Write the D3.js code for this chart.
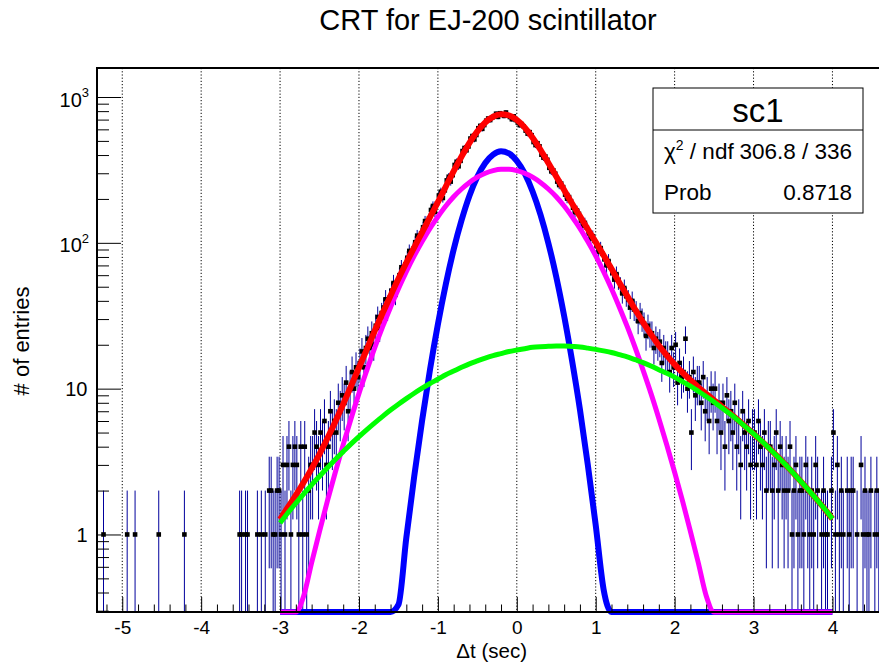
<!DOCTYPE html>
<html>
<head>
<meta charset="utf-8">
<script src="https://cdn.jsdelivr.net/npm/d3@7/dist/d3.min.js"></script>
<style>
  body { margin: 0; background: #fff; }
  text { font-family: "Liberation Sans", Arial, Helvetica, sans-serif; }
</style>
</head>
<body>
<div id="chart"></div>
<script>
// histogram: bins of 0.025 starting at -5.3
var binLo = -5.3, binW = 0.025;
var counts = [
  0,0,1,0,0,0,0,0,0,0, 0,0,0,0,1,0,0,0,1,0, 0,0,0,0,0,0,0,0,0,0,
  1,0,0,0,0,0,0,0,0,0, 0,0,0,1,0,0,0,0,0,0, 0,0,0,0,0,0,0,0,0,0,
  0,0,0,0,0,0,0,0,0,0, 0,1,1,0,1,1,0,0,0,0, 1,0,1,0,1,0,2,2,1,1,
  2,2,
  1,3,1,3, 4,1,3,4, 3,1,4,1, 4,1,2,3, 3,5,4,3, 5,4,6,3, 4,7,5,6, 5,8,7,9,
  8,11,7,10, 13,10,14,12, 15,18,14,19, 22,19,24,20, 27,31,26,33, 36,41,35,42,
  47,53,44,52, 60,68,62,71, 79,88,80,91, 101,112,98,116, 128,141,133,147,
  168,179,163,186, 211,224,203,229, 268,284,263,291, 342,360,335,365,
  426,447,431,458, 519,540,512,549, 611,634,605,642, 688,712,695,721,
  739,768,731,774, 761,742,783,748, 729,704,737,695, 668,641,652,629,
  588,561,574,547, 491,468,482,459, 402,384,391,371, 327,309,314,298,
  263,249,255,241, 214,201,206,193, 174,162,167,158, 142,131,137,127,
  116,107,111,103, 95,87,92,84, 77,70,75,68, 62,56,61,55, 51,45,49,43,
  41,36,40,35, 34,29,33,30, 28,23,27,24, 24,19,22,20, 21,15,19,17,
  17,13,19,14, 20,11,15,12, 13,22,10,12, 5,13,9,11, 11,8,12,7, 9,6,10,8,
  10,6,8,5, 8,4,9,6, 7,5,8,4, 6,3,7,5, 4,6,3,5, 5,3,6,4, 3,5,2,4, 4,2,3,5,
  2,4,3,2, 3,2,4,1, 2,3,1,2, 2,1,3,2, 1,2,1,3, 2,0,1,2, 1,1,0,2,
  5,1,3,1, 2,1,0,2, 1,2,2,0, 1,0,3,1, 2,1,1,2, 0,1,2,1
];

// fit functions, sampled every 0.1 from -3 to 4
var fitLo = -3, fitStep = 0.1;
var fBlue = [
  0,0,0,0,0,0,0,0,0,0,0,0,0,0,
  0.108,0.33,0.95,2.5,6.05,13.5,27.6,51.9,90,143,210.6,284,353,403,424,
  410,365,299,225,156,99.5,58.5,31.5,15.6,7.2,3.0,1.16,0.42,0.135,
  0,0,0,0,0,0,0,0,0,0,0,0,0,0,0,0,0,0,0,0,0,0,0,0,0,0,0,0
];
var fMagenta = [
  0.07,0.127,0.223,0.38,0.64,1.05,1.70,2.67,4.13,6.25,9.28,13.4,19.1,26.6,
  36.2,48.5,63.5,81.4,102,125.8,151,178.8,207,234,259.5,282,300,312.6,319,
  319,312.6,300,282,259.5,234,207,178.8,151,125.8,102,81.4,63.5,48.5,36.2,
  26.6,19.1,13.4,9.28,6.25,4.13,2.67,1.70,1.05,0.64,0.38,0.223,0.127,0.07,0.04,
  0,0,0,0,0,0,0,0,0,0,0,0
];
var fGreen = [
  1.20,1.41,1.64,1.90,2.19,2.51,2.87,3.27,3.70,4.18,4.69,5.24,5.83,6.46,
  7.13,7.82,8.54,9.30,10.07,10.85,11.6,12.45,13.2,14.0,14.8,15.5,16.2,16.85,17.4,
  17.97,18.4,18.8,19.2,19.4,19.5,19.6,19.6,19.46,19.3,18.97,18.6,18.17,17.7,17.09,
  16.5,15.79,15.1,14.32,13.5,12.76,12.0,11.17,10.4,9.6,8.84,8.11,7.39,6.72,6.08,
  5.47,4.91,4.38,3.89,3.44,3.03,2.65,2.31,2.01,1.74,1.50,1.28
];
var fTotal = [
  1.27,1.54,1.86,2.28,2.83,3.56,4.57,5.94,7.83,10.43,13.97,18.64,24.93,33.06,
  43.44,56.65,72.99,93.2,118.1,150.2,190.2,243.2,310.2,391,484.9,581.5,669.2,732.5,760.4,
  747,696,617.8,526.2,434.9,353,285.1,229.9,186.1,152.3,124,101.2,82.1,66.3,53.3,
  43.1,34.9,28.5,23.6,19.75,16.9,14.67,12.87,11.45,10.24,9.22,8.33,7.52,6.79,6.12,
  5.49,4.91,4.38,3.89,3.44,3.03,2.65,2.31,2.01,1.74,1.50,1.28
];

var xMajor = [-5, -4, -3, -2, -1, 0, 1, 2, 3, 4];
var yMajor = [1, 10, 100, 1000];
var yMinorMult = [2, 3, 4, 5, 6, 7, 8, 9];
var yDecades = [0.1, 1, 10, 100, 1000];
var statsName = "sc1";
var statsRows = [["χ² / ndf", "306.8 / 336"], ["Prob", "0.8718"]];

(function() {
  var W = 879, H = 666;
  var fLeft = 97, fRight = 879, fTop = 68, fBottom = 612;
  var xmin = -5.32, xmax = 4.59, ymin = 0.294, ymax = 1581;

  var x = d3.scaleLinear().domain([xmin, xmax]).range([fLeft, fRight]);
  var y = d3.scaleLog().domain([ymin, ymax]).range([fBottom, fTop]);

  var svg = d3.select("#chart").append("svg").attr("width", W).attr("height", H);

  svg.append("defs").append("clipPath").attr("id", "frame")
    .append("rect").attr("x", fLeft).attr("y", fTop).attr("width", fRight - fLeft).attr("height", fBottom - fTop);

  // vertical grid
  svg.append("g").selectAll("line").data(xMajor).enter().append("line")
    .attr("x1", function(d){ return x(d); }).attr("x2", function(d){ return x(d); })
    .attr("y1", fTop).attr("y2", fBottom)
    .attr("stroke", "#000").attr("stroke-width", 1).attr("stroke-dasharray", "1.2,2");

  var bins = counts.map(function(c, i){ return {x: binLo + (i + 0.5) * binW, n: c}; })
    .filter(function(d){ return d.n > 0 && d.x < xmax; });

  var data = svg.append("g").attr("clip-path", "url(#frame)");
  data.selectAll("line").data(bins).enter().append("line")
    .attr("x1", function(d){ return x(d.x); }).attr("x2", function(d){ return x(d.x); })
    .attr("y1", function(d){ return y(d.n + Math.sqrt(d.n)); })
    .attr("y2", function(d){ var lo = d.n - Math.sqrt(d.n); return lo > ymin ? y(lo) : fBottom + 2; })
    .attr("stroke", "#00009c").attr("stroke-width", 1);
  data.selectAll("rect").data(bins).enter().append("rect")
    .attr("x", function(d){ return x(d.x) - 2.3; }).attr("y", function(d){ return y(d.n) - 2.3; })
    .attr("width", 4.6).attr("height", 4.6).attr("fill", "#000");

  // fit curves, clamped at the frame bottom like ROOT does
  var line = d3.line()
    .x(function(d, i){ return x(fitLo + i * fitStep); })
    .y(function(d){ return y(Math.max(d, ymin)); })
    .curve(d3.curveMonotoneX);

  function curve(vals, color, w) {
    svg.append("path").attr("d", line(vals)).attr("fill", "none")
      .attr("stroke", color).attr("stroke-width", w).attr("stroke-linejoin", "round");
  }
  curve(fBlue, "#0000ff", 6);
  curve(fMagenta, "#ff00ff", 5);
  curve(fTotal, "#ff0000", 6);
  curve(fGreen, "#00ff00", 5);

  // axes
  var xAxis = svg.append("g").attr("transform", "translate(0," + fBottom + ")")
    .call(d3.axisBottom(x).tickValues(xMajor).tickSize(-15).tickPadding(9)
      .tickFormat(function(d){ return String(d); }));
  xAxis.select(".domain").remove();
  xAxis.selectAll("text").attr("font-size", 19).attr("font-family", "Liberation Sans, Arial, sans-serif").attr("fill", "#000");

  var xMinor = [];
  for (var v = -5.2; v < xmax; v += 0.2) {
    if (Math.abs(v - Math.round(v)) > 0.01) xMinor.push(v);
  }
  var xMinorAxis = svg.append("g").attr("transform", "translate(0," + fBottom + ")")
    .call(d3.axisBottom(x).tickValues(xMinor).tickSize(-7.5).tickFormat(""));
  xMinorAxis.select(".domain").remove();

  var yAxis = svg.append("g").attr("transform", "translate(" + fLeft + ",0)")
    .call(d3.axisLeft(y).tickValues(yMajor).tickSize(-24).tickFormat(""));
  yAxis.select(".domain").remove();

  var yMinor = [];
  yDecades.forEach(function(dec){
    yMinorMult.forEach(function(m){
      var t = dec * m;
      if (t > ymin && t < ymax) yMinor.push(t);
    });
  });
  var yMinorAxis = svg.append("g").attr("transform", "translate(" + fLeft + ",0)")
    .call(d3.axisLeft(y).tickValues(yMinor).tickSize(-12).tickFormat(""));
  yMinorAxis.select(".domain").remove();

  // y labels
  yMajor.forEach(function(d){
    var exp = Math.round(Math.log10(d));
    var t = svg.append("text").attr("text-anchor", "end").attr("font-size", 20)
      .attr("x", exp >= 2 ? 89 : 87.5).attr("y", y(d) + (exp >= 2 ? 9.5 : 7.5));
    if (exp >= 2) {
      t.append("tspan").text("10");
      t.append("tspan").attr("font-size", 13).attr("dy", -9.5).text(String(exp));
    } else {
      t.text(String(d));
    }
  });

  // frame lines
  svg.append("line").attr("x1", fLeft).attr("x2", fRight).attr("y1", fBottom).attr("y2", fBottom)
    .attr("stroke", "#000").attr("stroke-width", 2);
  svg.append("line").attr("x1", fLeft).attr("x2", fLeft).attr("y1", fTop).attr("y2", fBottom + 1)
    .attr("stroke", "#000").attr("stroke-width", 2);
  svg.append("line").attr("x1", fLeft - 1).attr("x2", fRight).attr("y1", fTop).attr("y2", fTop)
    .attr("stroke", "#000").attr("stroke-width", 2);

  // titles
  svg.append("text").attr("x", 488).attr("y", 30).attr("text-anchor", "middle")
    .attr("font-size", 29).text("CRT for EJ-200 scintillator");
  svg.append("text").attr("transform", "translate(29,341) rotate(-90)").attr("text-anchor", "middle")
    .attr("font-size", 22).text("# of entries");
  svg.append("text").attr("x", 527).attr("y", 658).attr("text-anchor", "end")
    .attr("font-size", 20.5).text("Δt (sec)");

  // stats box
  var bx = 653, by = 88, bw = 210, bh = 125, hdr = 42;
  svg.append("rect").attr("x", bx).attr("y", by).attr("width", bw).attr("height", bh)
    .attr("fill", "#fff").attr("stroke", "#000").attr("stroke-width", 1);
  svg.append("line").attr("x1", bx).attr("x2", bx + bw).attr("y1", by + hdr).attr("y2", by + hdr)
    .attr("stroke", "#000").attr("stroke-width", 1);
  svg.append("text").attr("x", bx + bw / 2).attr("y", by + 34).attr("text-anchor", "middle")
    .attr("font-size", 33).text(statsName);
  var rowY = [159, 200];
  statsRows.forEach(function(r, i){
    var lab = svg.append("text").attr("x", 664).attr("y", rowY[i]).attr("font-size", 22.5);
    if (r[0].indexOf("²") >= 0) {
      lab.append("tspan").text("χ");
      lab.append("tspan").attr("font-size", 14).attr("dy", -9).text("2");
      lab.append("tspan").attr("dy", 9).text(" / ndf");
    } else {
      lab.text(r[0]);
    }
    svg.append("text").attr("x", 852).attr("y", rowY[i]).attr("text-anchor", "end")
      .attr("font-size", 22.5).text(r[1]);
  });
})();
</script>
</body>
</html>
